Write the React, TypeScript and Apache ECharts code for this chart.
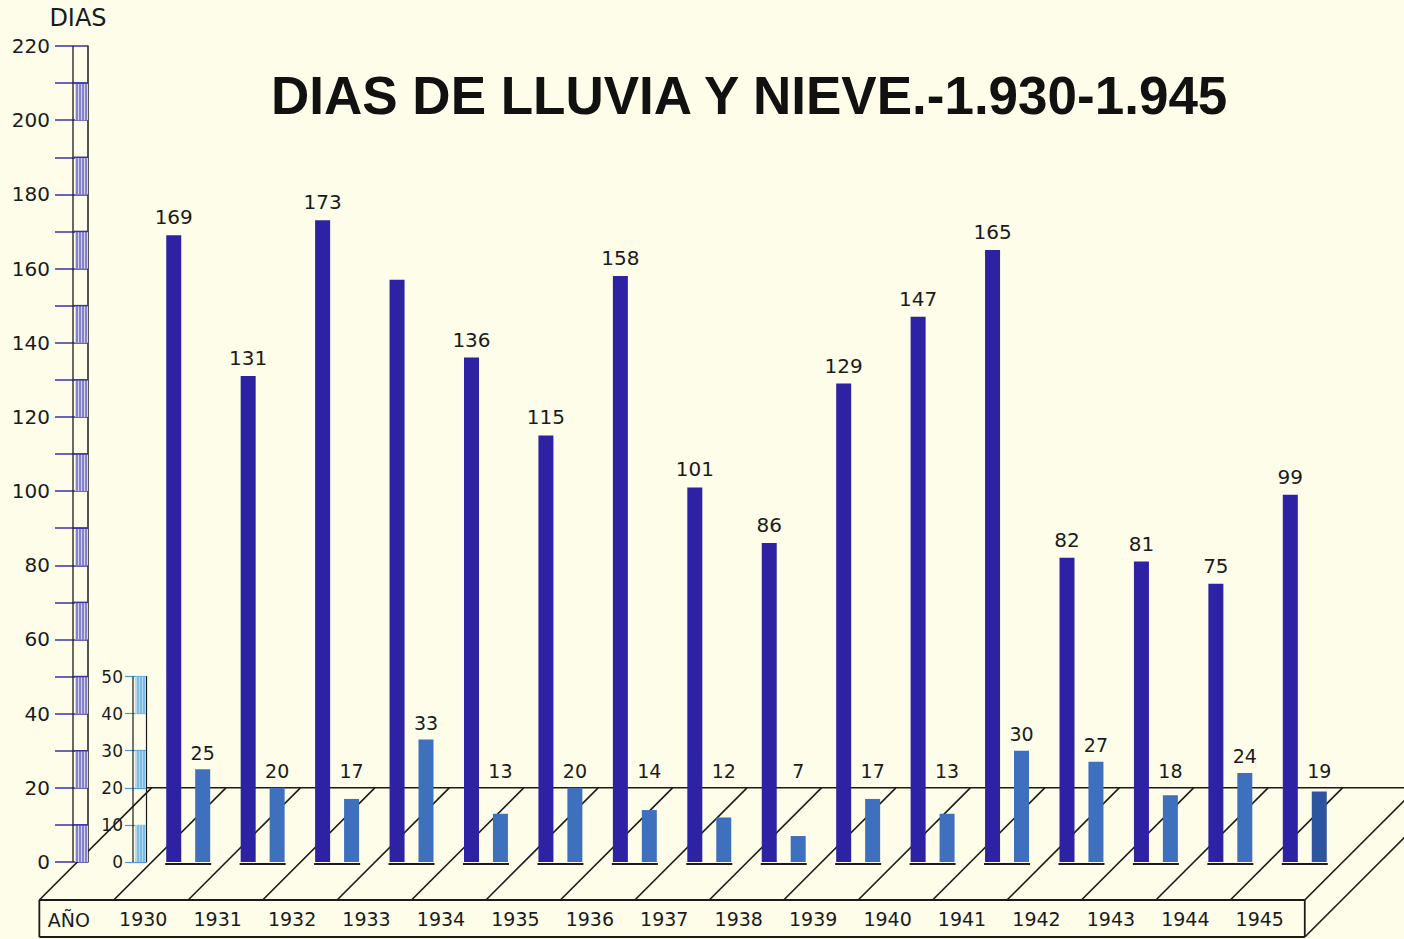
import React, { useEffect, useRef } from 'react';
import * as echarts from 'echarts';

// ---- data ----
const years = ['1930', '1931', '1932', '1933', '1934', '1935', '1936', '1937', '1938', '1939', '1940', '1941', '1942', '1943', '1944', '1945'];
const rainDays = [169, 131, 173, 157, 136, 115, 158, 101, 86, 129, 147, 165, 82, 81, 75, 99];
const snowDays = [25, 20, 17, 33, 13, 20, 14, 12, 7, 17, 13, 30, 27, 18, 24, 19];
const rainAxisMax = 220;
const rainAxisStep = 10;
const snowAxisMax = 50;
const snowAxisStep = 10;
const unlabeledRainYears = ['1933'];
const snowLabelFloor = 20; // small snow values are labelled at the 20 line
const titleText = 'DIAS DE LLUVIA Y NIEVE.-1.930-1.945';
const yAxisName = 'DIAS';
const floorName = 'AÑO';

const FONT = '"DejaVu Sans", sans-serif';
const INK = '#1b1b1b';
const DARK = '#2d22a3';
const LIGHT = '#3f70bd';
const LIGHT_LAST = '#2f549f';
const LADDER_BLUE = '#3b32a6';
const LADDER_FILL = '#d4d2f1';
const SNOW_LADDER = '#4b9ad6';
const SNOW_FILL = '#b4daf2';

const GRID_LEFT = 151;
const GRID_RIGHT = 62;
const GRID_TOP = 46;
const GRID_BOTTOM = 77;
const H = 939;
const PPU = (H - GRID_TOP - GRID_BOTTOM) / rainAxisMax;

export default function App() {
  const ref = useRef<HTMLDivElement>(null);
  useEffect(() => {
    document.body.style.margin = '0';
    const chart = echarts.init(ref.current as HTMLDivElement, null, { renderer: 'svg' });
    const snowTop = GRID_TOP + (rainAxisMax - snowAxisMax) * PPU;

    chart.setOption({
      animation: false,
      backgroundColor: '#fdfde9',
      title: {
        text: titleText,
        left: 266,
        top: 64,
        textStyle: { fontSize: 53, fontWeight: 'bold', fontFamily: '"Liberation Sans", Arial, sans-serif', color: '#111' },
      },
      grid: [
        { left: GRID_LEFT, right: GRID_RIGHT, top: GRID_TOP, bottom: GRID_BOTTOM },
        { left: 146, width: 1, top: snowTop, bottom: GRID_BOTTOM },
      ],
      xAxis: [
        {
          type: 'category',
          data: years,
          gridIndex: 0,
          axisLine: { show: false },
          axisTick: { show: false },
          axisLabel: { margin: 47, padding: [0, 90, 0, 0], fontSize: 19, color: INK, fontFamily: FONT, interval: 0 },
        },
        { type: 'value', gridIndex: 1, show: false, min: 0, max: 1 },
      ],
      yAxis: [
        {
          type: 'value',
          gridIndex: 0,
          min: 0,
          max: rainAxisMax,
          interval: rainAxisStep,
          offset: 63,
          name: yAxisName,
          nameLocation: 'end',
          nameGap: 16,
          nameTextStyle: { fontSize: 24, color: INK, fontFamily: FONT, padding: [0, 20, 0, 0] },
          axisLine: { show: true, lineStyle: { color: INK, width: 1.5 } },
          axisTick: { show: true, length: 33, lineStyle: { color: LADDER_BLUE, width: 1.5 } },
          axisLabel: {
            margin: 38,
            fontSize: 20,
            color: INK,
            fontFamily: FONT,
            formatter: (v: number) => (v % 20 === 0 ? String(v) : ''),
          },
          splitLine: { show: false },
        },
        {
          type: 'value',
          gridIndex: 1,
          min: 0,
          max: snowAxisMax,
          interval: snowAxisStep,
          axisLine: { show: true, lineStyle: { color: INK, width: 1.2 } },
          axisTick: { show: true, length: 21, lineStyle: { color: SNOW_LADDER, width: 1.2 } },
          axisLabel: { margin: 23, fontSize: 17, color: INK, fontFamily: FONT },
          splitLine: { show: false },
        },
      ],
      series: [
        {
          type: 'bar',
          name: 'Lluvia',
          xAxisIndex: 0,
          yAxisIndex: 0,
          barWidth: 15,
          barGap: '93%',
          itemStyle: { color: DARK },
          label: { show: true, position: 'top', distance: 8, fontSize: 20, color: INK, fontFamily: FONT },
          data: rainDays.map((v, i) =>
            unlabeledRainYears.includes(years[i]) ? { value: v, label: { show: false } } : v
          ),
          z: 3,
        },
        {
          type: 'bar',
          name: 'Nieve',
          xAxisIndex: 0,
          yAxisIndex: 0,
          barWidth: 15,
          itemStyle: { color: LIGHT },
          label: { show: true, position: 'top', distance: 7, fontSize: 19, color: INK, fontFamily: FONT },
          data: snowDays.map((v, i) => {
            const item: any = { value: v };
            if (v < snowLabelFloor) item.label = { offset: [0, -(snowLabelFloor - v) * PPU] };
            if (i === snowDays.length - 1) item.itemStyle = { color: LIGHT_LAST };
            return item;
          }),
          z: 3,
        },
      ],
    });

    // ---- decorations (ladder axes and perspective floor), positioned from the axes ----
    const px = (i: number, v: number) => chart.convertToPixel({ gridIndex: 0 }, [i, v]) as number[];
    const c0 = px(0, 0)[0];
    const step = px(1, 0)[0] - c0;
    const cx = (i: number) => c0 + i * step;
    const yv = (v: number) => px(0, v)[1];
    const y0 = yv(0);
    const y20 = yv(20);
    const yFront = y0 + 38;
    const yBottom = y0 + 75;
    const depth = yFront - y20;
    const gridLeftPx = c0 - step / 2;
    const xR = gridLeftPx - 63;
    const xL = xR - 15;
    const snowPt = chart.convertToPixel({ xAxisIndex: 1, yAxisIndex: 1 }, [0, 0]) as number[];
    const xSR = snowPt[0];
    const xSL = xSR - 13;

    const g: any[] = [];
    const line = (x1: number, y1: number, x2: number, y2: number, color = INK, width = 1.5, z = 1) =>
      g.push({ type: 'line', z, silent: true, shape: { x1, y1, x2, y2 }, style: { stroke: color, lineWidth: width } });

    // rain ladder
    line(xL, yv(rainAxisMax), xL, y0, INK, 1.3, 5);
    for (let v = 0; v < rainAxisMax; v += 2 * rainAxisStep) {
      const yt = yv(v + rainAxisStep);
      const yb = yv(v);
      g.push({ type: 'rect', z: 4, silent: true, shape: { x: xL + 2, y: yt, width: xR - xL - 2, height: yb - yt }, style: { fill: LADDER_FILL } });
      for (const dx of [4, 7, 10, 13]) line(xL + dx, yt, xL + dx, yb, LADDER_BLUE, 1, 4);
      line(xL, yt, xR, yt, LADDER_BLUE, 1.5, 5);
    }
    // snow ladder
    const ys = (v: number) => (chart.convertToPixel({ xAxisIndex: 1, yAxisIndex: 1 }, [0, v]) as number[])[1];
    line(xSL, ys(snowAxisMax), xSL, ys(0), INK, 1.2, 5);
    for (let v = 0; v < snowAxisMax; v += 2 * snowAxisStep) {
      const yt = ys(v + snowAxisStep);
      const yb = ys(v);
      g.push({ type: 'rect', z: 4, silent: true, shape: { x: xSL + 2, y: yt, width: xSR - xSL - 2, height: yb - yt }, style: { fill: SNOW_FILL } });
      for (const dx of [5, 8, 11]) line(xSL + dx, yt, xSL + dx, yb, SNOW_LADDER, 1, 4);
    }

    // back edge of the floor (20 line)
    line(xSR, y20, cx(years.length - 1) + depth + 40, y20, INK, 1.6, 1);
    // diagonals
    for (let i = -2; i < years.length; i++) {
      line(cx(i), yFront, cx(i) + depth, y20, INK, 1.6, 1);
    }
    // right side face bottom edge
    const last = cx(years.length - 1);
    line(last, yBottom, last + depth, yBottom - depth, INK, 1.6, 1);
    // front face
    line(cx(-2), yFront, last, yFront, INK, 1.8, 6);
    line(cx(-2), yBottom, last, yBottom, INK, 1.8, 6);
    line(cx(-2), yFront, cx(-2), yBottom, INK, 1.8, 6);
    line(last, yFront, last, yBottom, INK, 1.8, 6);
    // base lines under each pair
    for (let i = 0; i < years.length; i++) line(cx(i) - 23, y0 + 2, cx(i) + 23, y0 + 2, INK, 2.2, 6);
    // AÑO label
    g.push({
      type: 'text',
      z: 6,
      silent: true,
      x: cx(-1) - 45,
      y: (yFront + yBottom) / 2 + 1,
      style: { text: floorName, fontSize: 19, fill: INK, fontFamily: FONT, align: 'center', verticalAlign: 'middle' },
    });

    chart.setOption({ graphic: g });

    return () => chart.dispose();
  }, []);

  return <div ref={ref} style={{ width: 1404, height: 939 }} />;
}
